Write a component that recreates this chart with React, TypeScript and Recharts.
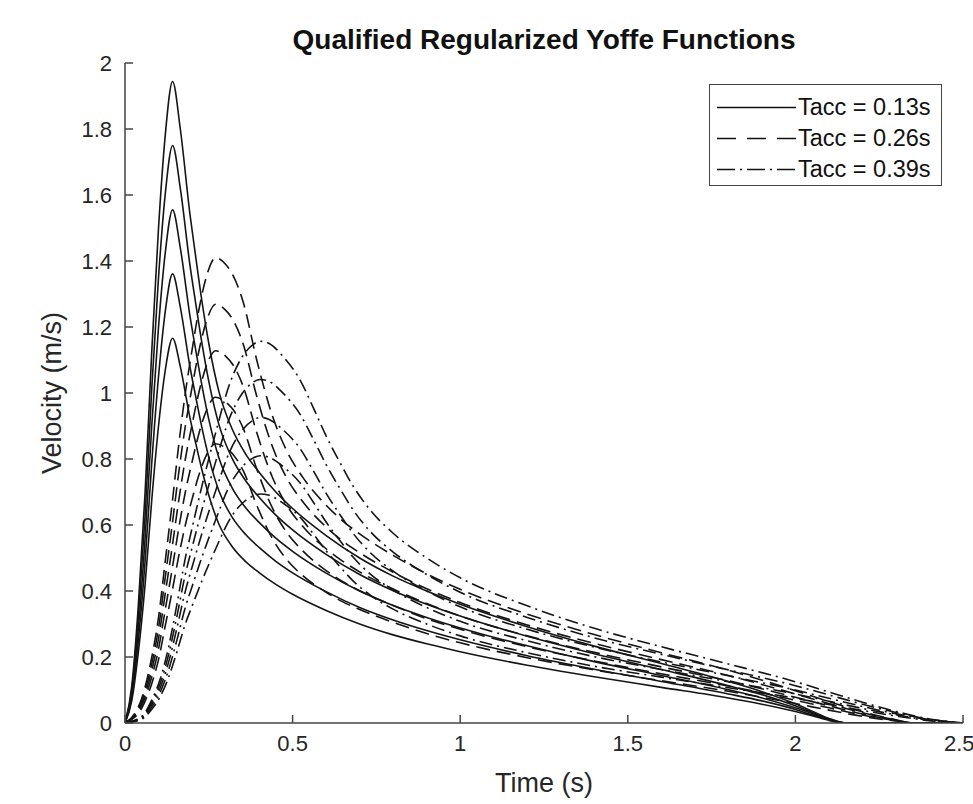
import { Line, LineChart, XAxis, YAxis } from 'recharts'

// time grids for each group (s)
const tSolid = [0, 0.02, 0.04, 0.06, 0.08, 0.1, 0.12, 0.142, 0.165, 0.194, 0.21, 0.23, 0.25, 0.28, 0.32, 0.36, 0.4, 0.45, 0.5, 0.6, 0.7, 0.8, 0.9, 1.0, 1.2, 1.4, 1.6, 1.8, 1.9, 2.0, 2.05, 2.1, 2.15, 2.5]
const tDashed = [0, 0.03, 0.05, 0.065, 0.08, 0.1, 0.12, 0.14, 0.16, 0.18, 0.2, 0.22, 0.245, 0.27, 0.3, 0.323, 0.353, 0.393, 0.44, 0.48, 0.53, 0.6, 0.65, 0.7, 0.8, 0.9, 1.0, 1.2, 1.4, 1.6, 1.8, 2.0, 2.1, 2.2, 2.3, 2.35, 2.5]
const tDashDot = [0, 0.05, 0.08, 0.104, 0.13, 0.155, 0.179, 0.2, 0.23, 0.268, 0.313, 0.35, 0.38, 0.403, 0.43, 0.472, 0.522, 0.562, 0.6, 0.641, 0.681, 0.731, 0.8, 0.9, 1.0, 1.2, 1.4, 1.6, 1.8, 2.0, 2.1, 2.2, 2.3, 2.4, 2.5]

// Tacc = 0.13s
const solid1 = [0, 0.11, 0.36, 0.7, 1.13, 1.5, 1.78, 1.944, 1.8, 1.54, 1.42, 1.275, 1.15, 1.005, 0.89, 0.815, 0.76, 0.7, 0.65, 0.568, 0.5, 0.445, 0.4, 0.36, 0.292, 0.233, 0.18, 0.126, 0.095, 0.058, 0.036, 0.014, 0, 0]
const solid2 = [0, 0.099, 0.324, 0.63, 1.017, 1.35, 1.602, 1.75, 1.62, 1.386, 1.278, 1.148, 1.035, 0.905, 0.801, 0.734, 0.684, 0.63, 0.585, 0.511, 0.45, 0.401, 0.36, 0.324, 0.263, 0.21, 0.162, 0.113, 0.086, 0.052, 0.032, 0.013, 0, 0]
const solid3 = [0, 0.088, 0.288, 0.56, 0.904, 1.2, 1.424, 1.555, 1.44, 1.232, 1.136, 1.02, 0.92, 0.804, 0.712, 0.652, 0.608, 0.56, 0.52, 0.454, 0.4, 0.356, 0.32, 0.288, 0.234, 0.186, 0.144, 0.101, 0.076, 0.046, 0.029, 0.011, 0, 0]
const solid4 = [0, 0.077, 0.252, 0.49, 0.791, 1.05, 1.246, 1.361, 1.26, 1.078, 0.994, 0.893, 0.805, 0.704, 0.623, 0.571, 0.532, 0.49, 0.455, 0.398, 0.35, 0.312, 0.28, 0.252, 0.204, 0.163, 0.126, 0.088, 0.067, 0.041, 0.025, 0.01, 0, 0]
const solid5 = [0, 0.066, 0.216, 0.42, 0.678, 0.9, 1.068, 1.166, 1.08, 0.924, 0.852, 0.765, 0.69, 0.603, 0.534, 0.489, 0.456, 0.42, 0.39, 0.341, 0.3, 0.267, 0.24, 0.216, 0.175, 0.14, 0.108, 0.076, 0.057, 0.035, 0.022, 0.008, 0, 0]

// Tacc = 0.26s
const dashed1 = [0, 0.03, 0.075, 0.13, 0.2, 0.32, 0.49, 0.66, 0.84, 1.0, 1.13, 1.25, 1.36, 1.41, 1.39, 1.355, 1.274, 1.1, 0.93, 0.83, 0.745, 0.66, 0.612, 0.573, 0.508, 0.452, 0.405, 0.33, 0.268, 0.213, 0.16, 0.098, 0.065, 0.034, 0.01, 0, 0]
const dashed2 = [0, 0.027, 0.068, 0.117, 0.18, 0.288, 0.441, 0.594, 0.756, 0.9, 1.017, 1.125, 1.224, 1.269, 1.251, 1.22, 1.147, 0.99, 0.837, 0.747, 0.671, 0.594, 0.551, 0.516, 0.457, 0.407, 0.365, 0.297, 0.241, 0.192, 0.144, 0.088, 0.059, 0.031, 0.009, 0, 0]
const dashed3 = [0, 0.024, 0.06, 0.104, 0.16, 0.256, 0.392, 0.528, 0.672, 0.8, 0.904, 1.0, 1.088, 1.128, 1.112, 1.084, 1.019, 0.88, 0.744, 0.664, 0.596, 0.528, 0.49, 0.458, 0.406, 0.362, 0.324, 0.264, 0.214, 0.17, 0.128, 0.078, 0.052, 0.027, 0.008, 0, 0]
const dashed4 = [0, 0.021, 0.053, 0.091, 0.14, 0.224, 0.343, 0.462, 0.588, 0.7, 0.791, 0.875, 0.952, 0.987, 0.973, 0.949, 0.892, 0.77, 0.651, 0.581, 0.522, 0.462, 0.428, 0.401, 0.356, 0.316, 0.284, 0.231, 0.188, 0.149, 0.112, 0.069, 0.046, 0.024, 0.007, 0, 0]
const dashed5 = [0, 0.018, 0.045, 0.078, 0.12, 0.192, 0.294, 0.396, 0.504, 0.6, 0.678, 0.75, 0.816, 0.846, 0.834, 0.813, 0.764, 0.66, 0.558, 0.498, 0.447, 0.396, 0.367, 0.344, 0.305, 0.271, 0.243, 0.198, 0.161, 0.128, 0.096, 0.059, 0.039, 0.02, 0.006, 0, 0]

// Tacc = 0.39s
const dashdot1 = [0, 0.02, 0.07, 0.13, 0.23, 0.36, 0.495, 0.59, 0.72, 0.87, 1.03, 1.11, 1.145, 1.157, 1.15, 1.11, 1.04, 0.955, 0.87, 0.79, 0.717, 0.646, 0.575, 0.5, 0.44, 0.355, 0.287, 0.231, 0.179, 0.125, 0.094, 0.063, 0.035, 0.012, 0]
const dashdot2 = [0, 0.018, 0.063, 0.117, 0.207, 0.324, 0.446, 0.531, 0.648, 0.783, 0.927, 0.999, 1.031, 1.041, 1.035, 0.999, 0.936, 0.86, 0.783, 0.711, 0.645, 0.581, 0.518, 0.45, 0.396, 0.32, 0.258, 0.208, 0.161, 0.113, 0.085, 0.057, 0.032, 0.011, 0]
const dashdot3 = [0, 0.016, 0.056, 0.104, 0.184, 0.288, 0.396, 0.472, 0.576, 0.696, 0.824, 0.888, 0.916, 0.926, 0.92, 0.888, 0.832, 0.764, 0.696, 0.632, 0.574, 0.517, 0.46, 0.4, 0.352, 0.284, 0.23, 0.185, 0.143, 0.1, 0.075, 0.05, 0.028, 0.01, 0]
const dashdot4 = [0, 0.014, 0.049, 0.091, 0.161, 0.252, 0.347, 0.413, 0.504, 0.609, 0.721, 0.777, 0.802, 0.81, 0.805, 0.777, 0.728, 0.669, 0.609, 0.553, 0.502, 0.452, 0.403, 0.35, 0.308, 0.249, 0.201, 0.162, 0.125, 0.088, 0.066, 0.044, 0.025, 0.008, 0]
const dashdot5 = [0, 0.012, 0.042, 0.078, 0.138, 0.216, 0.297, 0.354, 0.432, 0.522, 0.618, 0.666, 0.687, 0.694, 0.69, 0.666, 0.624, 0.573, 0.522, 0.474, 0.43, 0.388, 0.345, 0.3, 0.264, 0.213, 0.172, 0.139, 0.107, 0.075, 0.056, 0.038, 0.021, 0.007, 0]

const xTicks = [0, 0.5, 1, 1.5, 2, 2.5]
const yTicks = [0, 0.2, 0.4, 0.6, 0.8, 1, 1.2, 1.4, 1.6, 1.8, 2]
const legendLabels = ['Tacc = 0.13s', 'Tacc = 0.26s', 'Tacc = 0.39s']

const DASH = ['', '14 7', '13 5 2 5']
const LEGEND_DASH = ['', '19 11', '18 5 2 5']
const FONT = '"Liberation Sans", Arial, Helvetica, sans-serif'
const AXIS = '#444'
const TEXT = '#262626'

const rows = (ts: number[], vs: number[]) => ts.map((t, i) => ({ t, v: vs[i] }))

const series = [
  ...[solid1, solid2, solid3, solid4, solid5].map((v, i) => ({ id: `s${i}`, data: rows(tSolid, v), style: 0 })),
  ...[dashed1, dashed2, dashed3, dashed4, dashed5].map((v, i) => ({ id: `d${i}`, data: rows(tDashed, v), style: 1 })),
  ...[dashdot1, dashdot2, dashdot3, dashdot4, dashdot5].map((v, i) => ({ id: `dd${i}`, data: rows(tDashDot, v), style: 2 })),
]

export default function App() {
  const tickStyle = { fill: TEXT, fontSize: 22, fontFamily: FONT }
  const axisProps = {
    axisLine: { stroke: AXIS, strokeWidth: 1.5 },
    tickLine: { stroke: AXIS, strokeWidth: 1.5 },
    allowDataOverflow: true,
    tickSize: -8,
  }
  return (
    <div style={{ position: 'relative', width: 973, height: 804, background: '#fff', fontFamily: FONT }}>
      <style>{'body{margin:0;overflow:hidden}'}</style>
      <LineChart width={973} height={804} margin={{ top: 63, right: 10, bottom: 21, left: 65 }}>
        <XAxis xAxisId="bottom" dataKey="t" type="number" domain={[0, 2.5]} ticks={xTicks} height={60} tickMargin={20} tick={tickStyle} {...axisProps} />
        <XAxis xAxisId="top" orientation="top" dataKey="t" type="number" domain={[0, 2.5]} ticks={xTicks} height={0} tick={false} {...axisProps} />
        <YAxis yAxisId="left" type="number" domain={[0, 2]} ticks={yTicks} width={60} tickMargin={21} tick={tickStyle} {...axisProps} />
        <YAxis yAxisId="right" orientation="right" type="number" domain={[0, 2]} ticks={yTicks} width={0} tick={false} {...axisProps} />
        {series.map((s) => (
          <Line
            key={s.id}
            xAxisId="bottom"
            yAxisId="left"
            data={s.data}
            dataKey="v"
            type="monotone"
            stroke="#151515"
            strokeWidth={1.6}
            strokeDasharray={DASH[s.style] || undefined}
            dot={false}
            activeDot={false}
            isAnimationActive={false}
          />
        ))}
      </LineChart>

      <div style={{ position: 'absolute', left: 544, top: 40, transform: 'translate(-50%, -50%)', fontSize: 28, fontWeight: 'bold', color: '#111', whiteSpace: 'nowrap' }}>
        Qualified Regularized Yoffe Functions
      </div>
      <div style={{ position: 'absolute', left: 544, top: 783, transform: 'translate(-50%, -50%)', fontSize: 27, color: TEXT, whiteSpace: 'nowrap' }}>
        Time (s)
      </div>
      <div style={{ position: 'absolute', left: 52, top: 393, transform: 'translate(-50%, -50%) rotate(-90deg)', fontSize: 27, color: TEXT, whiteSpace: 'nowrap' }}>
        Velocity (m/s)
      </div>

      <div style={{ position: 'absolute', left: 709, top: 84, width: 231, height: 100, border: `1.5px solid ${AXIS}`, background: '#fff' }}>
        {legendLabels.map((label, i) => (
          <div key={label} style={{ position: 'absolute', left: 0, top: 7 + i * 31, height: 31, display: 'flex', alignItems: 'center' }}>
            <svg width={88} height={31} style={{ display: 'block' }}>
              <line x1={7} x2={86} y1={15.5} y2={15.5} stroke="#111" strokeWidth={1.5} strokeDasharray={LEGEND_DASH[i] || undefined} />
            </svg>
            <span style={{ fontSize: 23.5, color: '#111', whiteSpace: 'nowrap' }}>{label}</span>
          </div>
        ))}
      </div>
    </div>
  )
}
